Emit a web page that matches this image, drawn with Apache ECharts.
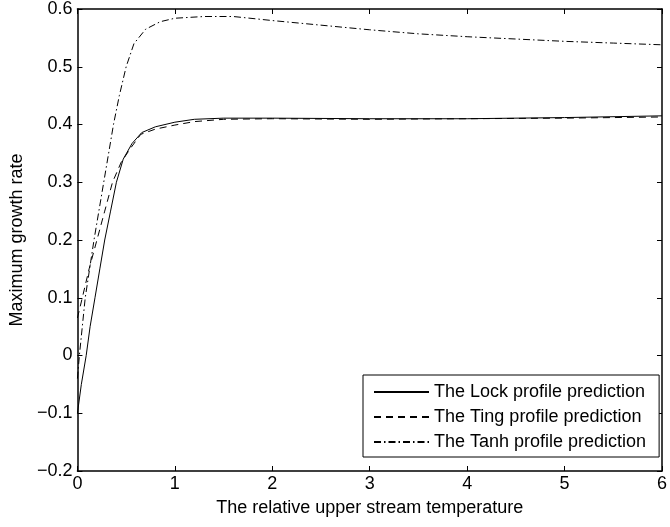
<!DOCTYPE html>
<html>
<head>
<meta charset="utf-8">
<script src="https://cdn.jsdelivr.net/npm/echarts@6/dist/echarts.min.js"></script>
<style>html,body{margin:0;padding:0;background:#fff;}#c{width:670px;height:527px;}</style>
</head>
<body>
<div id="c"></div>
<script>
// Data
var lockX  = [0, 0.04, 0.09, 0.13, 0.18, 0.23, 0.28, 0.34, 0.4, 0.47, 0.56, 0.66, 0.8, 1.0, 1.2, 1.5, 2, 3, 4, 5, 6];
var lockY  = [-0.1, -0.05, 0.0, 0.05, 0.1, 0.15, 0.2, 0.25, 0.3, 0.34, 0.367, 0.386, 0.396, 0.404, 0.409, 0.411, 0.411, 0.41, 0.41, 0.412, 0.415];
var tingX  = [0, 0.05, 0.12, 0.2, 0.28, 0.36, 0.45, 0.55, 0.65, 0.8, 1.0, 1.2, 1.5, 2, 3, 4, 5, 6];
var tingY  = [0.065, 0.1, 0.15, 0.2, 0.25, 0.3, 0.335, 0.36, 0.383, 0.392, 0.399, 0.405, 0.409, 0.41, 0.409, 0.41, 0.411, 0.413];
var tanhX  = [0, 0.02, 0.08, 0.17, 0.27, 0.37, 0.43, 0.5, 0.58, 0.7, 0.85, 1.0, 1.3, 1.6, 2, 2.5, 3, 3.5, 4, 4.5, 5, 5.5, 6];
var tanhY  = [-0.04, 0.0, 0.1, 0.2, 0.3, 0.4, 0.45, 0.5, 0.54, 0.565, 0.578, 0.584, 0.587, 0.587, 0.58, 0.572, 0.564, 0.557, 0.552, 0.548, 0.544, 0.541, 0.538];
var seriesNames = ['The Lock profile prediction', 'The Ting profile prediction', 'The Tanh profile prediction'];
var xTickLabels = ['0', '1', '2', '3', '4', '5', '6'];
var yTickLabels = ['\u22120.2', '\u22120.1', '0', '0.1', '0.2', '0.3', '0.4', '0.5', '0.6'];
var xName = 'The relative upper stream temperature';
var yName = 'Maximum growth rate';

function pairs(xs, ys) { return xs.map(function (x, i) { return [x, ys[i]]; }); }

var FONT = 'Liberation Sans, Arial, Helvetica, sans-serif';
var FS = 18;
var chart = echarts.init(document.getElementById('c'), null, { renderer: 'canvas' });
var tickStyle = { show: true, inside: true, length: 5, lineStyle: { color: '#000', width: 1 } };
var lineAx = { show: true, onZero: false, lineStyle: { color: '#000', width: 1.5 } };
chart.setOption({
  animation: false,
  backgroundColor: '#fff',
  color: ['#000', '#000', '#000'],
  grid: { left: 76, top: 9, right: 5, bottom: 56, containLabel: false },
  xAxis: [{
    type: 'value', min: 0, max: 6, interval: 1, position: 'bottom',
    axisLine: lineAx, axisTick: tickStyle, splitLine: { show: false },
    axisLabel: { color: '#000', fontFamily: FONT, fontSize: FS, margin: 4,
      formatter: function (v) { return xTickLabels[Math.round(v)]; } },
    name: xName, nameLocation: 'middle', nameGap: 28,
    nameTextStyle: { color: '#000', fontFamily: FONT, fontSize: FS }
  }, {
    type: 'value', min: 0, max: 6, interval: 1, position: 'top',
    axisLine: lineAx, axisTick: tickStyle, splitLine: { show: false },
    axisLabel: { show: false }
  }],
  yAxis: [{
    type: 'value', min: -0.2, max: 0.6, interval: 0.1, position: 'left',
    axisLine: lineAx, axisTick: tickStyle, splitLine: { show: false },
    axisLabel: { color: '#000', fontFamily: FONT, fontSize: FS, margin: 5,
      formatter: function (v) { return yTickLabels[Math.round((v + 0.2) * 10)]; } },
    name: yName, nameLocation: 'middle', nameGap: 49,
    nameTextStyle: { color: '#000', fontFamily: FONT, fontSize: FS }
  }, {
    type: 'value', min: -0.2, max: 0.6, interval: 0.1, position: 'right',
    axisLine: lineAx, axisTick: tickStyle, splitLine: { show: false },
    axisLabel: { show: false }
  }],
  legend: {
    orient: 'vertical', left: 363, top: 375,
    backgroundColor: '#fff', borderColor: '#000', borderWidth: 1,
    padding: [8, 13, 6, 10], itemGap: 7, itemWidth: 55, itemHeight: 14,
    itemStyle: { opacity: 0 },
    textStyle: { color: '#000', fontFamily: FONT, fontSize: FS },
    data: seriesNames
  },
  series: [{
    name: seriesNames[0], type: 'line', symbol: 'none', smooth: false,
    itemStyle: { color: '#000' },
    lineStyle: { color: '#000', width: 1, type: 'solid' },
    data: pairs(lockX, lockY)
  }, {
    name: seriesNames[1], type: 'line', symbol: 'none', smooth: false,
    itemStyle: { color: '#000' },
    lineStyle: { color: '#000', width: 1, type: [7, 5] },
    data: pairs(tingX, tingY)
  }, {
    name: seriesNames[2], type: 'line', symbol: 'none', smooth: false,
    itemStyle: { color: '#000' },
    lineStyle: { color: '#000', width: 1, type: [7, 3, 1.5, 3] },
    data: pairs(tanhX, tanhY)
  }]
});
</script>
</body>
</html>
